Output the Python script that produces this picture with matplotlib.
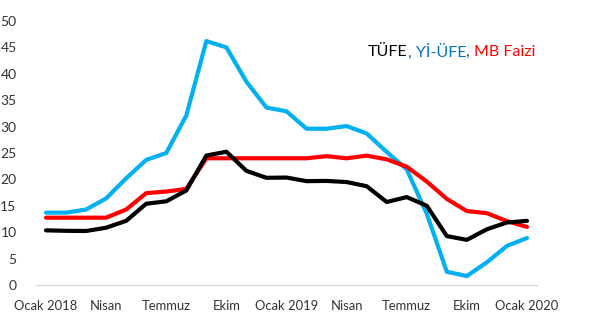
import matplotlib
matplotlib.use("Agg")
import matplotlib.pyplot as plt

months = list(range(25))
tick_pos = [0, 3, 6, 9, 12, 15, 18, 21, 24]
tick_labels = ["Ocak 2018", "Nisan", "Temmuz", "Ekim", "Ocak 2019", "Nisan", "Temmuz", "Ekim", "Ocak 2020"]

tufe = [10.35, 10.26, 10.23, 10.85, 12.15, 15.39, 15.85, 17.90, 24.52, 25.24, 21.62, 20.30,
        20.35, 19.67, 19.71, 19.50, 18.71, 15.72, 16.65, 15.01, 9.26, 8.55, 10.56, 11.84, 12.15]
yiufe = [13.7, 13.7, 14.3, 16.4, 20.2, 23.7, 25.0, 32.1, 46.2, 45.0, 38.5, 33.6,
         32.9, 29.6, 29.6, 30.1, 28.7, 25.2, 21.9, 13.5, 2.5, 1.7, 4.3, 7.4, 8.9]
mb = [12.75, 12.75, 12.75, 12.75, 14.3, 17.4, 17.7, 18.2, 24.0, 24.0, 24.0, 24.0,
      24.0, 24.0, 24.4, 24.0, 24.5, 23.8, 22.4, 19.6, 16.3, 14.0, 13.6, 12.1, 11.0]

plt.rcParams['font.family'] = ['Lato', 'DejaVu Sans']

fig = plt.figure(figsize=(5.96, 3.34), dpi=100)
ax = fig.add_axes([36/596, 49/334, 501/596, 264/334])

ax.plot(months, yiufe, color='#00B0F0', lw=3.0, solid_joinstyle='round', solid_capstyle='round')
ax.plot(months, mb, color='#FF0000', lw=3.0, solid_joinstyle='round', solid_capstyle='round')
ax.plot(months, tufe, color='#000000', lw=3.0, solid_joinstyle='round', solid_capstyle='round')

ax.set_xlim(-0.5, 24.5)
ax.set_ylim(0, 50)
ax.set_yticks(range(0, 51, 5))
ax.set_xticks(tick_pos)
ax.set_xticklabels(tick_labels)
for s in ['top', 'right', 'left']:
    ax.spines[s].set_visible(False)
ax.spines['bottom'].set_color('#D9D9D9')
ax.spines['bottom'].set_linewidth(1)
ax.tick_params(axis='both', length=0, colors='#333333')
ax.tick_params(axis='x', pad=11, labelsize=9.4)
ax.tick_params(axis='y', pad=14, labelsize=10)

# multi-coloured title text, chained piece by piece
pieces = [("TÜFE", '#000000'), (", Yİ-ÜFE", '#0070C0'), (", ", '#404040'), ("MB Faizi", '#FF0000')]
prev = fig.text(368 / 596, 1 - 52 / 334, pieces[0][0], color=pieces[0][1],
                fontsize=11.5, va='center', ha='left')
for txt, col in pieces[1:]:
    prev = ax.annotate(txt, xy=(1, 0.5), xycoords=prev, va='center', ha='left',
                       color=col, fontsize=11.5, annotation_clip=False)

fig.savefig("out.png", dpi=100)
